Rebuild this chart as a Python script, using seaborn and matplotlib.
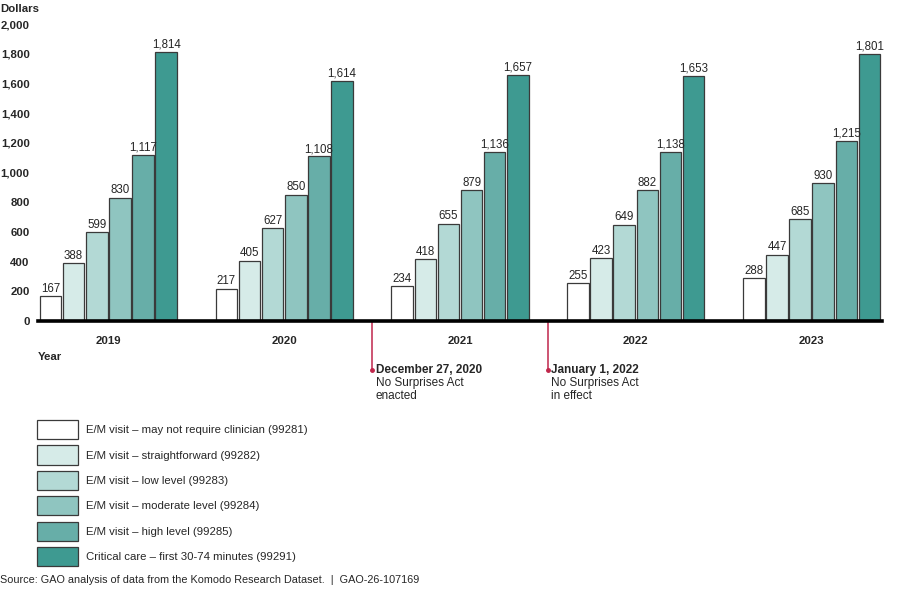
import matplotlib
matplotlib.use("Agg")
import matplotlib.pyplot as plt
import matplotlib.transforms as mtransforms
import pandas as pd
import seaborn as sns

# data
years = ["2019", "2020", "2021", "2022", "2023"]
services = [
    "E/M visit \u2013 may not require clinician (99281)",
    "E/M visit \u2013 straightforward (99282)",
    "E/M visit \u2013 low level (99283)",
    "E/M visit \u2013 moderate level (99284)",
    "E/M visit \u2013 high level (99285)",
    "Critical care \u2013 first 30-74 minutes (99291)",
]
v99281 = [167, 217, 234, 255, 288]
v99282 = [388, 405, 418, 423, 447]
v99283 = [599, 627, 655, 649, 685]
v99284 = [830, 850, 879, 882, 930]
v99285 = [1117, 1108, 1136, 1138, 1215]
v99291 = [1814, 1614, 1657, 1653, 1801]
yticks = [0, 200, 400, 600, 800, 1000, 1200, 1400, 1600, 1800, 2000]

events = [
    (1.5, "December 27, 2020", "No Surprises Act\nenacted"),
    (2.5, "January 1, 2022", "No Surprises Act\nin effect"),
]

colors = ["#ffffff", "#d6ebe8", "#b3d9d5", "#8fc5c0", "#67aea8", "#3e9a91"]

series = [v99281, v99282, v99283, v99284, v99285, v99291]
rows = []
for name, vals in zip(services, series):
    for yr, v in zip(years, vals):
        rows.append({"year": yr, "service": name, "value": v})
df = pd.DataFrame(rows)

sns.set_style("white")
plt.rcParams["font.family"] = ["Liberation Sans", "DejaVu Sans"]

fig = plt.figure(figsize=(9, 5.89), dpi=100)
ax = fig.add_axes([38 / 900, 1 - 321 / 589, (882 - 38) / 900, (321 - 24) / 589])

sns.barplot(data=df, x="year", y="value", hue="service", order=years,
            hue_order=services, palette=colors, saturation=1, edgecolor="#3a3a3a",
            linewidth=0.9, width=0.79, gap=0.07, ax=ax)

for cont in ax.containers:
    ax.bar_label(cont, labels=[f"{b.get_height():,.0f}" for b in cont],
                 padding=1, fontsize=8.3)

ax.set_xlim(-0.4, 4.4)
ax.set_ylim(0, 2000)
ax.set_yticks(yticks)
ax.set_yticklabels([f"{t:,}" for t in yticks], fontweight="bold", fontsize=8.2)
ax.set_xlabel("")
ax.set_ylabel("")
for lab in ax.get_xticklabels():
    lab.set_fontweight("bold")
    lab.set_fontsize(8.2)
ax.tick_params(axis="x", length=0, pad=11)
ax.tick_params(axis="y", length=0, pad=6)
for s in ["top", "right", "left"]:
    ax.spines[s].set_visible(False)
ax.spines["bottom"].set_color("black")
ax.spines["bottom"].set_linewidth(2.6)

fig.text(0.0, 1 - 9 / 589, "Dollars", fontweight="bold", fontsize=8.2, va="center")
fig.text(38 / 900, 1 - 357 / 589, "Year", fontweight="bold", fontsize=8.2, va="center")

# law milestones below the axis
trans = mtransforms.blended_transform_factory(ax.transData, ax.transAxes)
red = "#c0264b"
for xpos, date, desc in events:
    ax.plot([xpos, xpos], [0, -0.165], color=red, lw=1.1, transform=trans, clip_on=False)
    ax.plot([xpos], [-0.165], "o", color=red, ms=2.5, transform=trans, clip_on=False)
    ax.text(xpos + 0.02, -0.165, date, transform=trans, fontweight="bold",
            fontsize=8.5, va="center", ha="left")
    ax.text(xpos + 0.02, -0.188, desc, transform=trans, fontsize=8.5,
            va="top", ha="left", linespacing=1.15)

handles, labels = ax.get_legend_handles_labels()
if ax.get_legend() is not None:
    ax.get_legend().remove()
fig.legend(handles, labels, loc="upper left", bbox_to_anchor=(37 / 900, 1 - 420 / 589),
           frameon=False, fontsize=8.2, handlelength=3.6, handleheight=2.2,
           labelspacing=0.56, handletextpad=0.7, borderpad=0, borderaxespad=0)

fig.text(0.0, 1 - 580 / 589, "Source: GAO analysis of data from the Komodo Research Dataset.  |  GAO-26-107169",
         fontsize=7.8, va="center")

fig.savefig("out.png", dpi=100)
